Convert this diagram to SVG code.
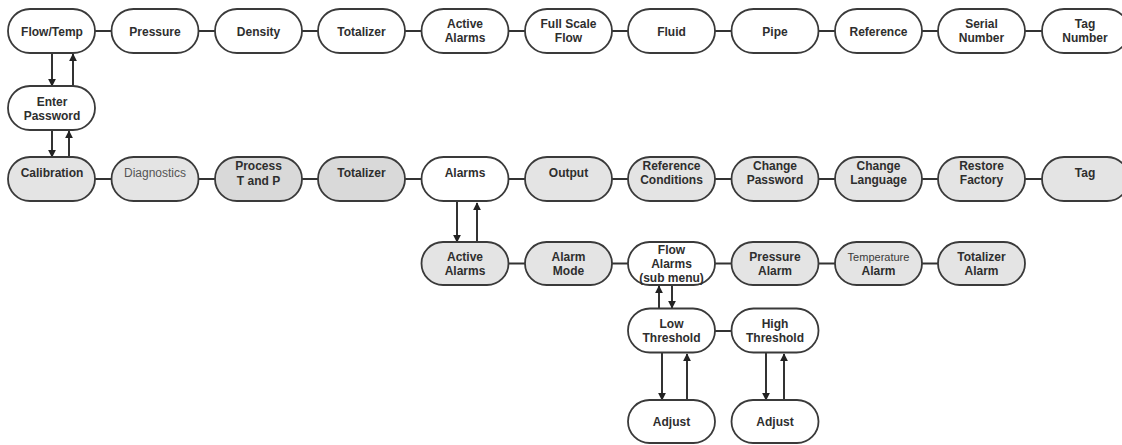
<svg xmlns="http://www.w3.org/2000/svg" width="1122" height="445" viewBox="0 0 1122 445">
<defs>
<style>
.n{stroke:#3a3a3a;stroke-width:1.8;fill:#fff}
.g{fill:#e4e4e4}
.d{fill:#d9d9d9}
text{font-family:"Liberation Sans",Arial,sans-serif;font-size:12px;font-weight:bold;fill:#2e2e2e;text-anchor:middle}
.lt{font-weight:normal;fill:#555}
.sm{font-size:11px;font-weight:normal;fill:#3a3a3a}
.c line{stroke:#333;stroke-width:2}
.a{marker-end:url(#ah)}
</style>
<marker id="ah" viewBox="0 0 10 10" refX="9" refY="5" markerWidth="8" markerHeight="8" orient="auto" markerUnits="userSpaceOnUse">
<path d="M0,0 L10,5 L0,10 z" fill="#222"/>
</marker>
</defs>
<rect width="1122" height="445" fill="#fff"/>
<g class="c">
<!-- row 1 -->
<line x1="95" y1="31" x2="112" y2="31"/>
<line x1="198" y1="31" x2="215" y2="31"/>
<line x1="302" y1="31" x2="318" y2="31"/>
<line x1="405" y1="31" x2="422" y2="31"/>
<line x1="508" y1="31" x2="525" y2="31"/>
<line x1="612" y1="31" x2="628" y2="31"/>
<line x1="715" y1="31" x2="732" y2="31"/>
<line x1="818" y1="31" x2="835" y2="31"/>
<line x1="922" y1="31" x2="938" y2="31"/>
<line x1="1025" y1="31" x2="1042" y2="31"/>
<!-- row 2 -->
<line x1="95" y1="179" x2="112" y2="179"/>
<line x1="198" y1="179" x2="215" y2="179"/>
<line x1="302" y1="179" x2="318" y2="179"/>
<line x1="405" y1="179" x2="422" y2="179"/>
<line x1="508" y1="179" x2="525" y2="179"/>
<line x1="612" y1="179" x2="628" y2="179"/>
<line x1="715" y1="179" x2="732" y2="179"/>
<line x1="818" y1="179" x2="835" y2="179"/>
<line x1="922" y1="179" x2="938" y2="179"/>
<line x1="1025" y1="179" x2="1042" y2="179"/>
<!-- row 3 -->
<line x1="508" y1="263.5" x2="525" y2="263.5"/>
<line x1="612" y1="263.5" x2="628" y2="263.5"/>
<line x1="715" y1="263.5" x2="732" y2="263.5"/>
<line x1="818" y1="263.5" x2="835" y2="263.5"/>
<line x1="922" y1="263.5" x2="938" y2="263.5"/>
<!-- thresholds -->
<line x1="715" y1="331" x2="732" y2="331"/>
<!-- vertical arrows -->
<line class="a" x1="52" y1="53" x2="52" y2="86"/>
<line class="a" x1="73" y1="86" x2="73" y2="54"/>
<line class="a" x1="52" y1="130" x2="52" y2="157"/>
<line class="a" x1="69" y1="157" x2="69" y2="131"/>
<line class="a" x1="457" y1="202" x2="457" y2="242"/>
<line class="a" x1="477" y1="242" x2="477" y2="203"/>
<line class="a" x1="659" y1="308" x2="659" y2="286"/>
<line class="a" x1="672" y1="285" x2="672" y2="308"/>
<line class="a" x1="662" y1="353" x2="662" y2="400"/>
<line class="a" x1="687" y1="400" x2="687" y2="354"/>
<line class="a" x1="766" y1="353" x2="766" y2="400"/>
<line class="a" x1="784" y1="400" x2="784" y2="354"/>
</g>

<!-- Row 1 -->
<g id="flowtemp"><rect class="n" x="8" y="9" width="87" height="44" rx="22"/><text x="52" y="36">Flow/Temp</text></g>
<g id="pressure"><rect class="n" x="111.5" y="9" width="87" height="44" rx="22"/><text x="155" y="36">Pressure</text></g>
<g id="density"><rect class="n" x="215" y="9" width="87" height="44" rx="22"/><text x="258.5" y="36">Density</text></g>
<g id="totalizer1"><rect class="n" x="318" y="9" width="87" height="44" rx="22"/><text x="361.5" y="36">Totalizer</text></g>
<g id="activealarms1"><rect class="n" x="421.5" y="9" width="87" height="44" rx="22"/><text x="465" y="28">Active</text><text x="465" y="42">Alarms</text></g>
<g id="fullscale"><rect class="n" x="525" y="9" width="87" height="44" rx="22"/><text x="568.5" y="28">Full Scale</text><text x="568.5" y="42">Flow</text></g>
<g id="fluid"><rect class="n" x="628" y="9" width="87" height="44" rx="22"/><text x="671.5" y="36">Fluid</text></g>
<g id="pipe"><rect class="n" x="731.5" y="9" width="87" height="44" rx="22"/><text x="775" y="36">Pipe</text></g>
<g id="reference"><rect class="n" x="835" y="9" width="87" height="44" rx="22"/><text x="878.5" y="36">Reference</text></g>
<g id="serial"><rect class="n" x="938" y="9" width="87" height="44" rx="22"/><text x="981.5" y="28">Serial</text><text x="981.5" y="42">Number</text></g>
<g id="tagnumber"><rect class="n" x="1042" y="9" width="87" height="44" rx="22"/><text x="1085" y="28">Tag</text><text x="1085" y="42">Number</text></g>

<!-- Enter password -->
<g id="password"><rect class="n" x="8" y="86" width="87" height="44" rx="22"/><text x="52" y="106">Enter</text><text x="52" y="120">Password</text></g>

<!-- Row 2 -->
<g id="calibration"><rect class="n g" x="8" y="157" width="87" height="44" rx="22"/><text x="52" y="177">Calibration</text></g>
<g id="diagnostics"><rect class="n g" x="111.5" y="157" width="87" height="44" rx="22"/><text class="lt" x="155" y="177">Diagnostics</text></g>
<g id="processtp"><rect class="n d" x="215" y="157" width="87" height="44" rx="22"/><text x="258.5" y="170">Process</text><text x="258.5" y="185">T and P</text></g>
<g id="totalizer2"><rect class="n d" x="318" y="157" width="87" height="44" rx="22"/><text x="361.5" y="177">Totalizer</text></g>
<g id="alarms"><rect class="n" x="421.5" y="157" width="87" height="44" rx="22"/><text x="465" y="177">Alarms</text></g>
<g id="output"><rect class="n g" x="525" y="157" width="87" height="44" rx="22"/><text x="568.5" y="177">Output</text></g>
<g id="refcond"><rect class="n g" x="628" y="157" width="87" height="44" rx="22"/><text x="671.5" y="170">Reference</text><text x="671.5" y="184">Conditions</text></g>
<g id="changepw"><rect class="n g" x="731.5" y="157" width="87" height="44" rx="22"/><text x="775" y="170">Change</text><text x="775" y="184">Password</text></g>
<g id="changelang"><rect class="n g" x="835" y="157" width="87" height="44" rx="22"/><text x="878.5" y="170">Change</text><text x="878.5" y="184">Language</text></g>
<g id="restore"><rect class="n g" x="938" y="157" width="87" height="44" rx="22"/><text x="981.5" y="170">Restore</text><text x="981.5" y="184">Factory</text></g>
<g id="tag"><rect class="n g" x="1042" y="157" width="87" height="44" rx="22"/><text x="1085" y="177">Tag</text></g>

<!-- Row 3 -->
<g id="activealarms2"><rect class="n g" x="421.5" y="242" width="87" height="43" rx="21.5"/><text x="465" y="261">Active</text><text x="465" y="275">Alarms</text></g>
<g id="alarmmode"><rect class="n g" x="525" y="242" width="87" height="43" rx="21.5"/><text x="568.5" y="261">Alarm</text><text x="568.5" y="275">Mode</text></g>
<g id="flowalarms"><rect class="n" x="628" y="242" width="87" height="43" rx="21.5"/><text x="671.5" y="254">Flow</text><text x="671.5" y="268">Alarms</text><text x="671.5" y="282">(sub menu)</text></g>
<g id="pressurealarm"><rect class="n g" x="731.5" y="242" width="87" height="43" rx="21.5"/><text x="775" y="261">Pressure</text><text x="775" y="275">Alarm</text></g>
<g id="tempalarm"><rect class="n g" x="835" y="242" width="87" height="43" rx="21.5"/><text class="sm" x="878.5" y="261">Temperature</text><text x="878.5" y="275">Alarm</text></g>
<g id="totalizeralarm"><rect class="n g" x="938" y="242" width="87" height="43" rx="21.5"/><text x="981.5" y="261">Totalizer</text><text x="981.5" y="275">Alarm</text></g>

<!-- Thresholds -->
<g id="lowthreshold"><rect class="n" x="628" y="308.5" width="87" height="44" rx="22"/><text x="671.5" y="328">Low</text><text x="671.5" y="342">Threshold</text></g>
<g id="highthreshold"><rect class="n" x="731.5" y="308.5" width="87" height="44" rx="22"/><text x="775" y="328">High</text><text x="775" y="342">Threshold</text></g>

<!-- Adjust -->
<g id="adjustlow"><rect class="n" x="628" y="400" width="87" height="43" rx="21.5"/><text x="671.5" y="426">Adjust</text></g>
<g id="adjusthigh"><rect class="n" x="731.5" y="400" width="87" height="43" rx="21.5"/><text x="775" y="426">Adjust</text></g>
</svg>
